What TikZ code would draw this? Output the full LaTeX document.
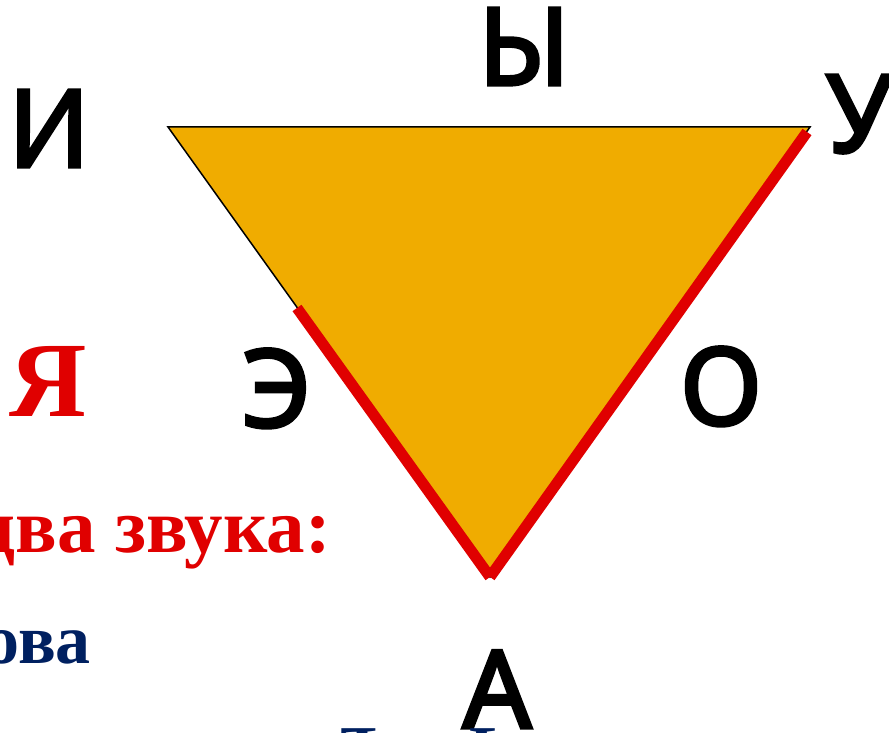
\documentclass[tikz,border=0pt]{standalone}
\usepackage{fontspec}
\setmainfont{Liberation Serif}
\newfontfamily\vowelfont{Noto Sans}[FakeBold=3]
\definecolor{triorange}{HTML}{F0AC00}
\definecolor{slidered}{HTML}{E00000}
\definecolor{slideblue}{HTML}{002060}
\begin{document}
\begin{tikzpicture}[x=1pt,y=-1pt,
  vowel/.style={anchor=base,inner sep=0pt,font=\vowelfont\fontsize{108}{108}\selectfont,text=black},
  redtext/.style={inner sep=0pt,text=slidered,font=\bfseries\fontsize{77}{77}\selectfont},
  bluetext/.style={inner sep=0pt,text=slideblue,font=\bfseries\fontsize{70}{70}\selectfont},
  redline/.style={draw=slidered,line width=11pt,line cap=butt}]
\useasboundingbox (0,0) rectangle (889,733);
\coordinate (tl) at (168,127);
\coordinate (tr) at (810,127);
\coordinate (bt) at (490,577);
\coordinate (rs) at (297,308);
\coordinate (re) at (807,132);
\filldraw[fill=triorange,draw=black,line width=1.5pt,line join=miter] (tl) -- (tr) -- (bt) -- cycle;
\draw[redline] (rs) -- (bt);
\draw[redline] (bt) -- (re);
\node[vowel] (i) at (49,167) {И};
\node[vowel] (y) at (524,85) {Ы};
\node[vowel,anchor=base west] (u) at (826,152) {У};
\node[vowel] (e) at (276,427) {Э};
\node[vowel] (o) at (721,425) {О};
\node[vowel] (a) at (497,728) {А};
\node[anchor=base,inner sep=0pt,text=slidered,font=\bfseries\fontsize{107}{107}\selectfont] (ya) at (48,416) {Я};
\node[redtext,anchor=base east] (dva) at (331,552) {два звука:};
\node[bluetext,anchor=base east] (ova) at (91,663) {ова};
\node[bluetext,anchor=base west] (zn) at (340,774) {Ъ и Ь};
\end{tikzpicture}
\end{document}
